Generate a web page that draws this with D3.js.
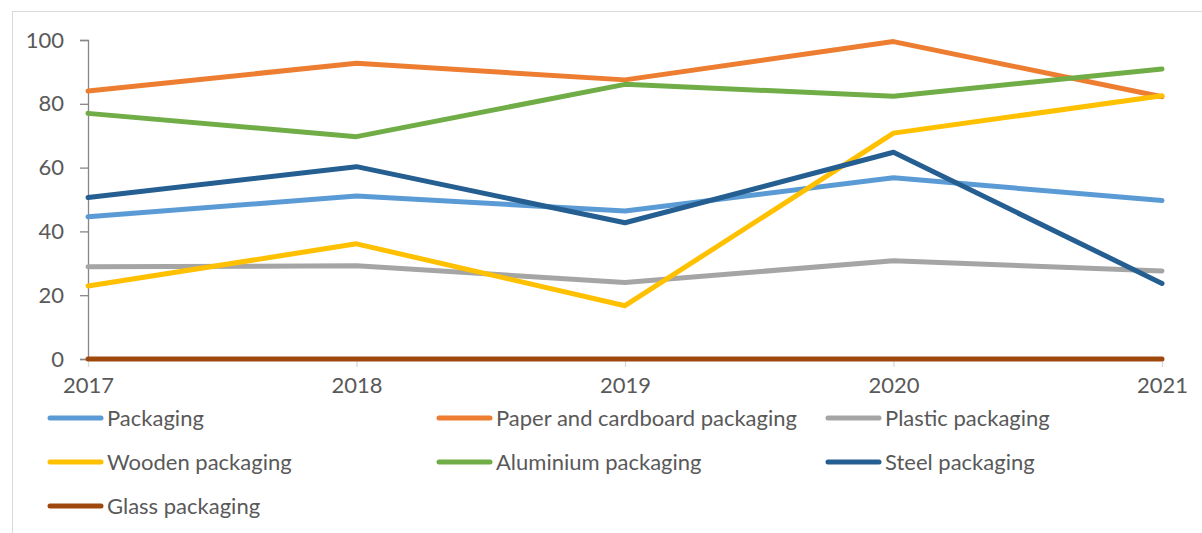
<!DOCTYPE html>
<html>
<head>
<meta charset="utf-8">
<script src="https://cdn.jsdelivr.net/npm/d3@7"></script>
<style>
  html, body { margin: 0; padding: 0; background: #fff; }
  svg { display: block; }
  text { font-family: Lato, "Open Sans", sans-serif; fill: #595959; }
</style>
</head>
<body>
<svg id="chart" width="1202" height="533"></svg>
<script>
// Packaging index by material, 2017–2021
const years = ["2017", "2018", "2019", "2020", "2021"];
const yTicks = [0, 20, 40, 60, 80, 100];

const seriesNames = [
  "Packaging",
  "Paper and cardboard packaging",
  "Plastic packaging",
  "Wooden packaging",
  "Aluminium packaging",
  "Steel packaging",
  "Glass packaging"
];
const seriesColors = ["#5B9BD5", "#ED7D31", "#A5A5A5", "#FFC000", "#70AD47", "#255E91", "#9E480E"];

const packaging  = [44.6, 51.1, 46.4, 56.8, 49.7];
const paper      = [84.0, 92.7, 87.5, 99.5, 82.2];
const plastic    = [28.9, 29.2, 24.0, 30.8, 27.6];
const wooden     = [22.9, 36.1, 16.7, 70.8, 82.5];
const aluminium  = [77.0, 69.7, 86.1, 82.4, 90.9];
const steel      = [50.6, 60.3, 42.7, 64.8, 23.7];
const glass      = [0, 0, 0, 0, 0];

const seriesValues = [packaging, paper, plastic, wooden, aluminium, steel, glass];

const svg = d3.select("#chart");
const fontSize = "22px";

// outer chart frame
svg.append("rect")
  .attr("x", 12.5).attr("y", 11.5)
  .attr("width", 1300).attr("height", 600)
  .attr("fill", "none").attr("stroke", "#D9D9D9").attr("stroke-width", 1);

const x = d3.scalePoint().domain(years).range([88, 1162]);
const y = d3.scaleLinear().domain([0, 100]).range([359, 40]);

// y axis
const yAxis = svg.append("g")
  .attr("transform", "translate(88,0)")
  .call(d3.axisLeft(y).tickValues(yTicks).tickSize(8).tickPadding(16));
yAxis.select(".domain").attr("stroke", "#868686").attr("stroke-width", 1.3);
yAxis.selectAll(".tick line").attr("stroke", "#868686").attr("stroke-width", 1.3);
yAxis.selectAll(".tick text")
  .attr("fill", "#595959")
  .style("font-size", fontSize)
  .style("font-family", "Lato, 'Open Sans', sans-serif");

// x axis (tick marks and labels only)
const xAxis = svg.append("g")
  .attr("transform", "translate(0,359)")
  .call(d3.axisBottom(x).tickSize(8).tickPadding(10));
xAxis.select(".domain").attr("stroke", "#D9D9D9").attr("stroke-width", 1);
xAxis.selectAll(".tick line").attr("stroke", "#D9D9D9").attr("stroke-width", 1.3);
xAxis.selectAll(".tick text")
  .attr("fill", "#595959")
  .style("font-size", fontSize)
  .style("font-family", "Lato, 'Open Sans', sans-serif");

// series lines
const line = d3.line()
  .x((d, i) => x(years[i]))
  .y(d => y(d));

svg.append("g").selectAll("path")
  .data(seriesValues)
  .join("path")
  .attr("d", d => line(d))
  .attr("fill", "none")
  .attr("stroke", (d, i) => seriesColors[i])
  .attr("stroke-width", 5)
  .attr("stroke-linecap", "round")
  .attr("stroke-linejoin", "round");

// legend: three columns
const legend = svg.append("g");
const colX = [48, 437, 826];
const rowY = [418, 462, 506];
seriesNames.forEach((name, i) => {
  const cx = colX[i % 3];
  const cy = rowY[Math.floor(i / 3)];
  const item = legend.append("g");
  item.append("line")
    .attr("x1", cx + 2).attr("x2", cx + 53)
    .attr("y1", cy).attr("y2", cy)
    .attr("stroke", seriesColors[i])
    .attr("stroke-width", 5)
    .attr("stroke-linecap", "round");
  item.append("text")
    .attr("x", cx + 59).attr("y", cy)
    .attr("dy", "0.35em")
    .style("font-size", fontSize)
    .text(name);
});
</script>
</body>
</html>
